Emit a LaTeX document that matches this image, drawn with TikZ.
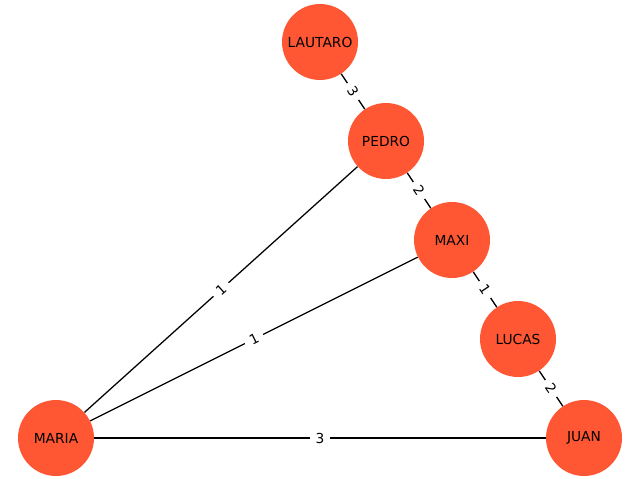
\documentclass[tikz,border=0pt]{standalone}
\usepackage{fontspec}
\setmainfont{DejaVu Sans}
\definecolor{nodecolor}{RGB}{255,87,51}
\tikzset{
    person/.style={circle, fill=nodecolor, minimum size=1.9cm, inner sep=0pt, font=\fontsize{9.8}{12}\selectfont},
    link/.style={line width=0.9pt},
    weight/.style={midway, sloped, fill=white, inner xsep=4pt, inner ysep=2pt, font=\fontsize{9.8}{12}\selectfont}
}
\begin{document}
\begin{tikzpicture}
    \useasboundingbox (0,0) rectangle (16,12);

    % Place the people
    \node[person] (lautaro) at (8.0,10.95) {LAUTARO};
    \node[person] (pedro) at (9.65,8.475) {PEDRO};
    \node[person] (maxi) at (11.3,6.0) {MAXI};
    \node[person] (lucas) at (12.95,3.525) {LUCAS};
    \node[person] (juan) at (14.6,1.05) {JUAN};
    \node[person] (maria) at (1.4,1.05) {MARIA};

    % Weighted links
    \draw[link] (lautaro) -- (pedro) node[weight] {3};
    \draw[link] (pedro) -- (maxi) node[weight] {2};
    \draw[link] (maxi) -- (lucas) node[weight] {1};
    \draw[link] (lucas) -- (juan) node[weight] {2};
    \draw[link] (maria) -- (pedro) node[weight] {1};
    \draw[link] (maria) -- (maxi) node[weight] {1};
    \draw[link] (maria) -- (juan) node[weight] {3};
\end{tikzpicture}
\end{document}
